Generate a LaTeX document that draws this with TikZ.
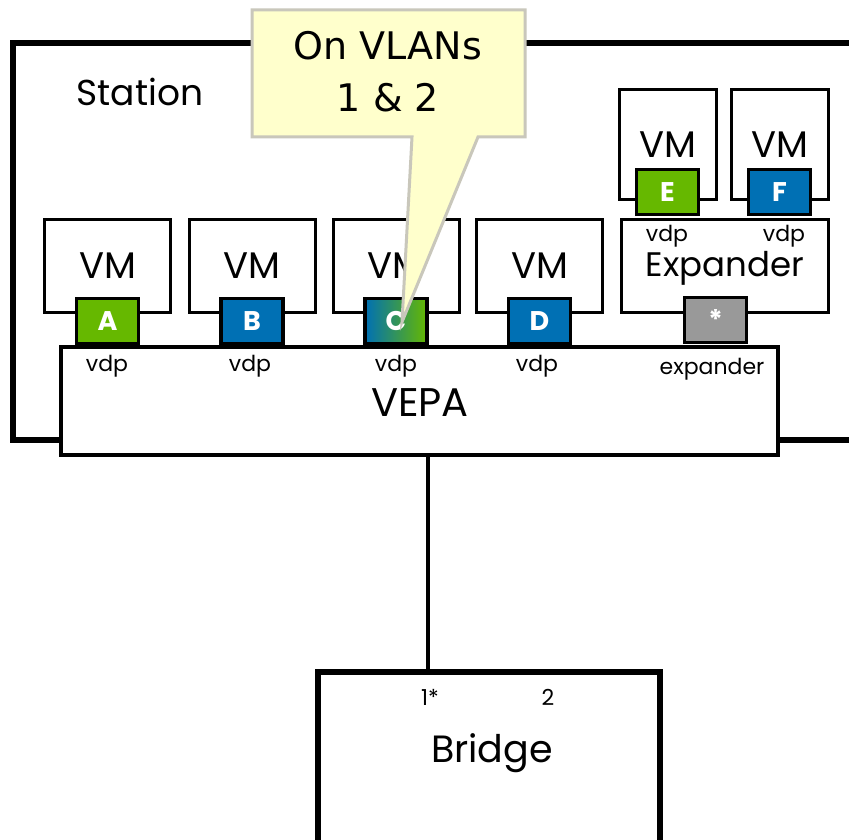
\documentclass[tikz,border=0pt]{standalone}
\usepackage{fontspec}
\setmainfont{Poppins}
\newfontfamily\callfont{DejaVu Sans}
\definecolor{pgreen}{HTML}{66B800}
\definecolor{pblue}{HTML}{0070B4}
\definecolor{pgrey}{HTML}{999999}
\definecolor{cfill}{HTML}{FFFFCC}
\definecolor{cline}{HTML}{C9C7BB}
\tikzset{
  vmbox/.style={draw, line width=3pt, fill=white, minimum width=126pt, minimum height=93pt, inner sep=0pt, font=\fontsize{37}{37}\selectfont},
  upvm/.style={vmbox, minimum width=97pt, minimum height=109pt},
  port/.style={draw, line width=3.5pt, minimum width=62pt, minimum height=45pt, inner sep=0pt, text=white, font=\fontsize{27}{27}\selectfont\bfseries},
  small/.style={inner sep=0pt, font=\fontsize{22}{22}\selectfont},
  big/.style={inner sep=0pt, font=\fontsize{36}{36}\selectfont},
}
\begin{document}
\begin{tikzpicture}[x=1pt,y=-1pt]
\useasboundingbox (0,0) rectangle (849,840);
\clip (0,0) rectangle (849,840);
\fill[white] (0,0) rectangle (849,840);
% station
\draw[line width=6pt] (860,43) -- (13,43) -- (13,440) -- (860,440);
\node[big] (station) at (140,92) {Station};
% VEPA
\node[draw, line width=4pt, fill=white, minimum width=717pt, minimum height=108pt, inner sep=0pt] (vepa) at (419.5,401) {};
\node[inner sep=0pt, font=\fontsize{40}{40}\selectfont] (vepalbl) at (420,403) {VEPA};
% VMs
\node[vmbox] (vm1) at (107.5,265.5) {VM};
\node[vmbox] (vm2) at (252,265.5) {VM};
\node[vmbox] (vm3) at (396,265.5) {VM};
\node[vmbox] (vm4) at (539.5,265.5) {VM};
\node[vmbox, minimum width=207pt] (exp) at (724.5,265.5) {};
\node[upvm] (vm5) at (667.5,144.5) {VM};
\node[upvm] (vm6) at (779.5,144.5) {VM};
% ports
\node[port, fill=pgreen] (pA) at (107.5,321) {A};
\node[port, fill=pblue] (pB) at (252,321) {B};
\node[port, left color=pblue, right color=pgreen] (pC) at (396,321) {C};
\node[port, fill=pblue] (pD) at (539.5,321) {D};
\node[port, fill=pgrey] (pS) at (715.5,320) {*};
\node[port, fill=pgreen] (pE) at (667.5,192) {E};
\node[port, fill=pblue] (pF) at (779.5,192) {F};
% labels
\node[small] (vA) at (107,366) {vdp};
\node[small] (vB) at (250,366) {vdp};
\node[small] (vC) at (396,366) {vdp};
\node[small] (vD) at (537,366) {vdp};
\node[small] (vX) at (712,369) {expander};
\node[small] (vE) at (667,236) {vdp};
\node[small] (vF) at (784,236) {vdp};
\node[inner sep=0pt, font=\fontsize{34}{34}\selectfont] (explbl) at (725,268) {Expander};
% bridge
\node[draw, line width=6pt, fill=white, minimum width=342pt, minimum height=200pt, inner sep=0pt, anchor=north] (bridge) at (489,669) {};
\node[small] (b1) at (430,697) {1*};
\node[small] (b2) at (548,697) {2};
\node[inner sep=0pt, font=\fontsize{38}{38}\selectfont] (blbl) at (492,753) {Bridge};
\draw[line width=3.5pt] (vepa.south -| 428,0) -- (bridge.north -| 428,0);
% callout
\draw[line width=3pt, draw=cline, fill=cfill, line join=miter] (252,10) -- (525,10) -- (525,137) -- (478,137) -- (402,322) -- (412,137) -- (252,137) -- cycle;
\node[inner sep=0pt, font=\callfont\fontsize{38}{38}\selectfont] (call1) at (388,46) {On VLANs};
\node[inner sep=0pt, font=\callfont\fontsize{38}{38}\selectfont] (call2) at (388,98) {1 \& 2};
\end{tikzpicture}
\end{document}
